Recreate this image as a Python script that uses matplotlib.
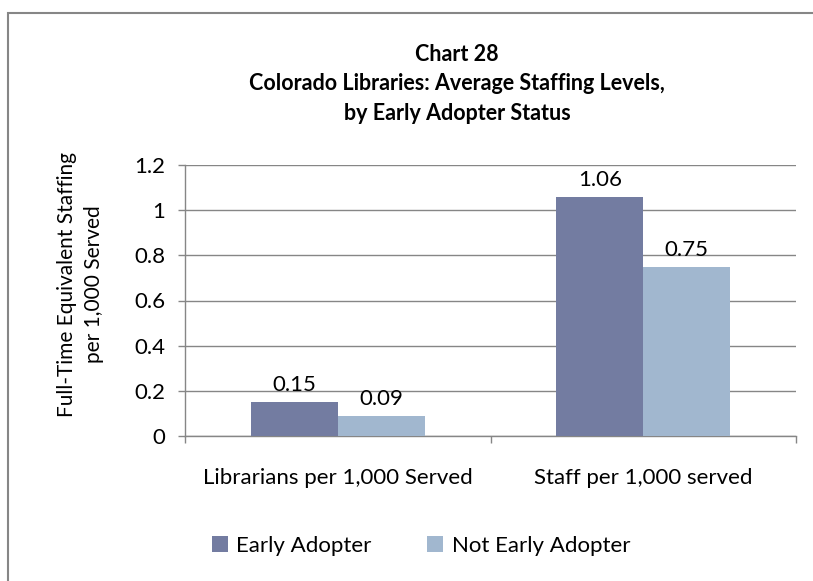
import numpy as np
import matplotlib
matplotlib.use("Agg")
import matplotlib.pyplot as plt
from matplotlib.patches import Rectangle, Patch

plt.rcParams["font.family"] = ["Lato", "DejaVu Sans"]

# Data
categories = ["Librarians per 1,000 Served", "Staff per 1,000 served"]
series_names = ["Early Adopter", "Not Early Adopter"]
early = [0.15, 1.06]
not_early = [0.09, 0.75]
colors = ["#737CA1", "#A1B7CF"]
yticks = [0, 0.2, 0.4, 0.6, 0.8, 1.0, 1.2]
ytick_labels = ["0", "0.2", "0.4", "0.6", "0.8", "1", "1.2"]

W, H = 813, 581
fig = plt.figure(figsize=(W / 100, H / 100), dpi=100)
ax = fig.add_axes([185 / W, 1 - 436 / H, (796 - 185) / W, (436 - 165) / H])

grid_col = "#868686"
x = np.arange(len(categories))
bw = 0.285
for vals, name, col, off in [(early, series_names[0], colors[0], -bw / 2),
                             (not_early, series_names[1], colors[1], bw / 2)]:
    bars = ax.bar(x + off, vals, width=bw, color=col, label=name, zorder=3)
    for b, v in zip(bars, vals):
        ax.text(b.get_x() + b.get_width() / 2, v + 0.03, f"{v:.2f}",
                ha="center", va="bottom", fontsize=16, color="black", zorder=4)

ax.set_xlim(-0.5, len(categories) - 0.5)
ax.set_ylim(0, 1.2)
ax.set_yticks(yticks)
ax.set_yticklabels(ytick_labels, fontsize=16)
ax.set_xticks(x)
ax.set_xticklabels(categories, fontsize=16)
ax.set_xticks([-0.5, 0.5, 1.5], minor=True)
ax.tick_params(axis="x", which="major", length=0, pad=23)
ax.tick_params(axis="x", which="minor", length=5, color=grid_col, width=1)
ax.tick_params(axis="y", length=5, color=grid_col, width=1, pad=9)
ax.yaxis.grid(True, color=grid_col, linewidth=1, zorder=0)
ax.set_axisbelow(True)
for s in ["top", "right"]:
    ax.spines[s].set_visible(False)
for s in ["left", "bottom"]:
    ax.spines[s].set_color(grid_col)
    ax.spines[s].set_linewidth(1)

ax.set_ylabel("Full-Time Equivalent Staffing\nper 1,000 Served", fontsize=15,
              linespacing=1.45, multialignment="center")
ax.yaxis.set_label_coords((104 - 185) / 611, 0.56)

fig.text(0.562, 1 - 44 / H,
         "Chart 28\nColorado Libraries: Average Staffing Levels,\nby Early Adopter Status",
         ha="center", va="top", fontsize=15.5, fontweight="bold", linespacing=1.5)

handles = [Patch(facecolor=c, label=n) for c, n in zip(colors, series_names)]
fig.legend(handles=handles, loc="center", bbox_to_anchor=(0.518, 1 - 546 / H),
           ncol=2, frameon=False, fontsize=16, handlelength=0.7, handleheight=0.7,
           columnspacing=2.5, handletextpad=0.4)

# Outer chart border (top and left visible)
fig.patches.append(Rectangle((8 / W, -0.1), 1.2, 1 - 13 / H + 0.1,
                             transform=fig.transFigure, fill=False,
                             edgecolor=grid_col, linewidth=1.5, figure=fig))

fig.savefig("out.png", dpi=100)
